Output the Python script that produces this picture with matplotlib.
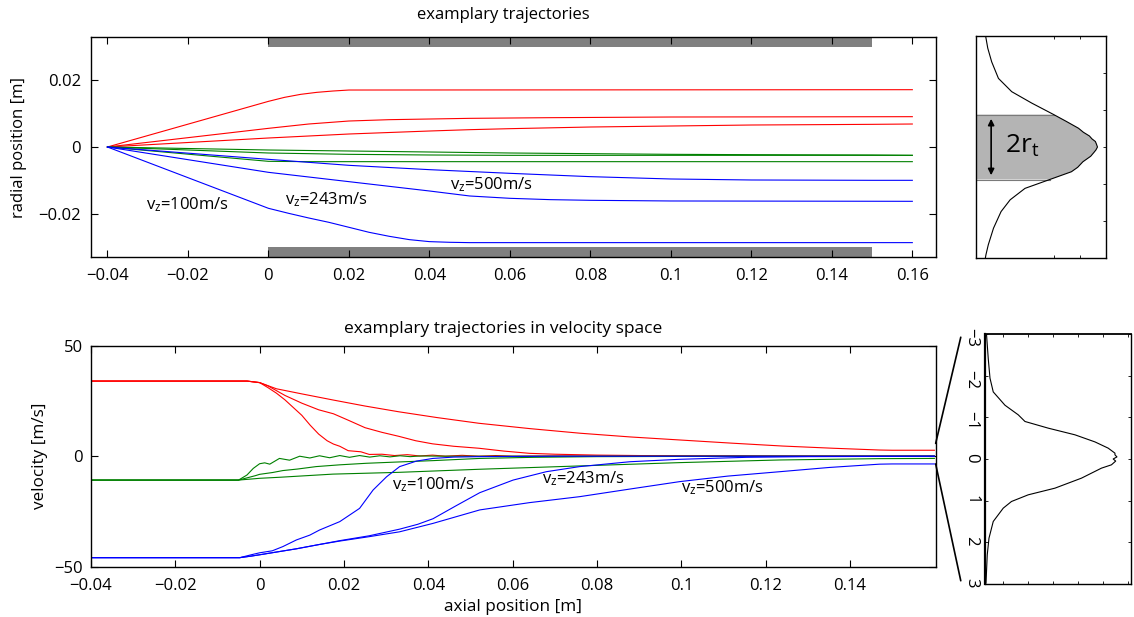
import matplotlib
matplotlib.use('Agg')
import matplotlib.pyplot as plt
from matplotlib.patches import ConnectionPatch

plt.rcParams['font.family'] = ['Open Sans', 'DejaVu Sans']
plt.rcParams['font.size'] = 12
plt.rcParams['axes.linewidth'] = 1.0
plt.rcParams['mathtext.default'] = 'regular'

# ---- radial position vs axial position (top panel) ----
pos_red_100_x = [-0.04, 0.0, 0.004, 0.008, 0.012, 0.016, 0.02, 0.16]
pos_red_100_r = [0.0, 0.0137, 0.0149, 0.0158, 0.0164, 0.0168, 0.0171, 0.0172]
pos_red_243_x = [-0.04, 0.0, 0.01, 0.02, 0.03, 0.04, 0.05, 0.07, 0.1, 0.16]
pos_red_243_r = [0.0, 0.0056, 0.0069, 0.0078, 0.0082, 0.0084, 0.0086, 0.0088, 0.0090, 0.0091]
pos_red_500_x = [-0.04, 0.0, 0.02, 0.04, 0.05, 0.06, 0.08, 0.1, 0.12, 0.15, 0.16]
pos_red_500_r = [0.0, 0.0027, 0.0039, 0.0048, 0.0052, 0.0055, 0.0060, 0.0063, 0.0066, 0.0068, 0.0069]

pos_green_100_x = [-0.04, 0.0, 0.01, 0.02, 0.16]
pos_green_100_r = [0.0, -0.0043, -0.0044, -0.0044, -0.0044]
pos_green_243_x = [-0.04, 0.0, 0.02, 0.04, 0.06, 0.1, 0.16]
pos_green_243_r = [0.0, -0.0018, -0.0022, -0.0024, -0.0025, -0.0025, -0.0025]
pos_green_500_x = [-0.04, 0.0, 0.02, 0.04, 0.06, 0.08, 0.1, 0.12, 0.15, 0.16]
pos_green_500_r = [0.0, -0.0009, -0.0012, -0.0015, -0.0018, -0.0020, -0.0022, -0.0023, -0.0024, -0.0025]

pos_blue_100_x = [-0.04, 0.0, 0.005, 0.01, 0.015, 0.02, 0.025, 0.03, 0.035, 0.04, 0.045, 0.05, 0.16]
pos_blue_100_r = [0.0, -0.0184, -0.0199, -0.0213, -0.0226, -0.0241, -0.0256, -0.0268, -0.0278,
                  -0.0284, -0.0286, -0.0287, -0.0287]
pos_blue_243_x = [-0.04, 0.0, 0.01, 0.02, 0.03, 0.04, 0.05, 0.06, 0.07, 0.08, 0.1, 0.16]
pos_blue_243_r = [0.0, -0.0076, -0.0090, -0.0104, -0.0118, -0.0132, -0.0147, -0.0154, -0.0158,
                  -0.0160, -0.0162, -0.0163]
pos_blue_500_x = [-0.04, 0.0, 0.02, 0.04, 0.06, 0.08, 0.1, 0.12, 0.15, 0.16]
pos_blue_500_r = [0.0, -0.0037, -0.0055, -0.0068, -0.0079, -0.0089, -0.0096, -0.0099, -0.0100, -0.0100]

# electrode bars
bar_x = [0.0, 0.15]
bar_inner = 0.030
bar_outer = 0.033

# ---- transverse velocity vs axial position (bottom panel) ----
vel_red_100_x = [-0.04, -0.003, 0.0, 0.002, 0.004, 0.006, 0.008, 0.01, 0.012, 0.014, 0.016, 0.0175,
                 0.019, 0.021, 0.024, 0.026, 0.029, 0.032, 0.035, 0.038, 0.041, 0.044, 0.048, 0.052,
                 0.056, 0.06, 0.07, 0.16]
vel_red_100_v = [34, 34, 33.3, 31, 28.5, 25.5, 22, 18.5, 14, 10, 7, 5.5, 4.5, 2.5, 2, 0.8, 0.9, 0.3,
                 0.7, 0.1, 0.5, 0.0, 0.4, 0.0, 0.3, 0.0, 0.1, 0.0]
vel_red_243_x = [-0.04, -0.003, 0.0, 0.002, 0.006, 0.01, 0.014, 0.0175, 0.021, 0.025, 0.029, 0.033,
                 0.037, 0.041, 0.046, 0.052, 0.058, 0.064, 0.07, 0.08, 0.09, 0.1, 0.12, 0.16]
vel_red_243_v = [34, 34, 33.3, 31.8, 27.5, 24, 21, 19.2, 16.3, 12.9, 10.8, 9, 7, 5.6, 4.5, 3.6, 2.3,
                 1.3, 0.9, 0.5, 0.3, 0.2, 0.1, 0.0]
vel_red_500_x = [-0.04, -0.003, 0.0, 0.004, 0.01, 0.0175, 0.025, 0.033, 0.042, 0.052, 0.064, 0.076,
                 0.088, 0.1, 0.112, 0.124, 0.136, 0.147, 0.15, 0.16]
vel_red_500_v = [34, 34, 33.3, 30.5, 28.2, 25.4, 22.7, 20.1, 17.5, 14.9, 12.5, 10.4, 8.7, 7.3, 5.9,
                 4.6, 3.6, 2.8, 2.7, 2.7]

vel_green_100_x = [-0.04, -0.005, -0.003, -0.0015, 0.0, 0.0012, 0.0024, 0.0047, 0.0071, 0.0095,
                   0.0119, 0.0142, 0.0166, 0.019, 0.0213, 0.0237, 0.0261, 0.0285, 0.0309, 0.0333,
                   0.0357, 0.038, 0.045, 0.055, 0.07, 0.16]
vel_green_100_v = [-10.8, -10.8, -8.5, -5.5, -3.4, -3.0, -3.6, -1.0, -1.8, 0.0, -0.8, 0.2, -0.7, 0.3,
                   -0.5, 0.3, -0.4, 0.2, -0.3, 0.2, -0.2, 0.1, 0.0, 0.0, 0.0, 0.0]
vel_green_243_x = [-0.04, -0.005, -0.003, -0.001, 0.0, 0.003, 0.0055, 0.009, 0.0134, 0.019, 0.0253,
                   0.033, 0.0411, 0.0522, 0.065, 0.08, 0.1, 0.16]
vel_green_243_v = [-10.8, -10.8, -9.8, -8.8, -8.2, -7.4, -6.5, -5.8, -4.7, -3.9, -3.2, -2.6, -2.0,
                   -1.0, -0.5, -0.2, -0.1, 0.0]
vel_green_500_x = [-0.04, -0.005, 0.0, 0.005, 0.0174, 0.033, 0.0522, 0.0759, 0.0996, 0.1234, 0.147, 0.16]
vel_green_500_v = [-10.8, -10.8, -10.0, -9.5, -8.1, -7.3, -5.9, -4.4, -2.9, -1.7, -1.1, -1.0]

vel_blue_100_x = [-0.04, -0.0047, -0.002, 0.0, 0.003, 0.0055, 0.0087, 0.0119, 0.0142, 0.019, 0.0237,
                  0.0269, 0.0301, 0.0332, 0.0372, 0.0411, 0.046, 0.052, 0.06, 0.07, 0.16]
vel_blue_100_v = [-45.9, -45.9, -44.6, -43.7, -42.8, -40.9, -37.9, -35.7, -33.4, -29.6, -23.6, -15.3,
                  -9.3, -4.7, -2.2, -1.0, -0.4, -0.2, -0.1, 0.0, 0.0]
vel_blue_243_x = [-0.04, -0.0047, -0.002, 0.0, 0.0045, 0.0087, 0.014, 0.019, 0.026, 0.0332, 0.0375,
                  0.0411, 0.0465, 0.0522, 0.0601, 0.068, 0.0759, 0.0878, 0.0996, 0.1155, 0.13, 0.16]
vel_blue_243_v = [-45.9, -45.9, -45.2, -44.6, -43.2, -41.9, -40.0, -38.2, -36.0, -33.0, -30.8, -28.3,
                  -22.5, -16.5, -10.8, -7.0, -4.7, -2.5, -1.4, -0.5, -0.2, 0.0]
vel_blue_500_x = [-0.04, -0.0047, -0.002, 0.0, 0.0045, 0.0087, 0.014, 0.019, 0.026, 0.0332, 0.0411,
                  0.0522, 0.064, 0.0759, 0.088, 0.0996, 0.111, 0.1234, 0.135, 0.147, 0.15, 0.16]
vel_blue_500_v = [-45.9, -45.9, -45.2, -44.6, -43.2, -41.9, -40.0, -38.4, -36.4, -34.2, -30.4, -24.3,
                  -21.0, -18.3, -14.8, -11.5, -9.0, -7.0, -5.1, -3.6, -3.5, -3.5]

# ---- radial distribution (top right) ----
rdist_r = [3.0, 2.68, 2.31, 1.86, 1.5, 1.19, 0.88, 0.7, 0.51, 0.4, 0.3, 0.22, 0.15, 0.08, 0.0,
           -0.08, -0.15, -0.25, -0.4, -0.55, -0.67, -0.88, -1.12, -1.43, -1.75, -2.2, -2.65, -2.92, -3.0]
rdist_n = [0.37, 0.45, 0.6, 0.86, 1.37, 2.14, 2.98, 3.45, 3.93, 4.12, 4.35, 4.45, 4.58, 4.62, 4.66,
           4.6, 4.52, 4.4, 4.1, 3.9, 3.66, 2.83, 1.88, 1.31, 0.96, 0.67, 0.47, 0.38, 0.36]
r_t = 0.88

# ---- velocity distribution (bottom right) ----
vdist_v = [-3.0, -2.41, -1.94, -1.61, -1.29, -1.06, -0.9, -0.74, -0.58, -0.41, -0.26, -0.14, -0.1,
           -0.05, 0.0, 0.05, 0.14, 0.22, 0.46, 0.70, 0.86, 1.02, 1.18, 1.5, 1.9, 2.3, 2.98]
vdist_n = [0.33, 0.40, 0.47, 0.60, 1.07, 1.6, 1.87, 2.8, 3.87, 4.67, 5.2, 5.47, 5.47, 5.55, 5.4, 5.5,
           5.33, 4.93, 4.13, 3.07, 2.0, 1.33, 1.0, 0.6, 0.43, 0.36, 0.31]
zoom_hi = 5.8
zoom_lo = -3.5

fig = plt.figure(figsize=(11.34, 6.17), dpi=100)
ax1 = fig.add_axes([0.0802, 0.583, 0.7449, 0.3575])
ax2 = fig.add_axes([0.0802, 0.0815, 0.7449, 0.3582])
ax3 = fig.add_axes([0.8607, 0.5823, 0.1149, 0.3588])
ax4 = fig.add_axes([0.8686, 0.0535, 0.1287, 0.4052])

lw = 0.8
for ax in (ax1, ax2):
    ax.tick_params(direction='in', top=True, right=True, length=5, width=0.8, labelsize=12)

# top panel
ax1.fill_between(bar_x, bar_inner, bar_outer, color='#808080', lw=0)
ax1.fill_between(bar_x, -bar_outer, -bar_inner, color='#808080', lw=0)
for xs, rs, c in [(pos_red_100_x, pos_red_100_r, 'red'), (pos_red_243_x, pos_red_243_r, 'red'),
                  (pos_red_500_x, pos_red_500_r, 'red'),
                  (pos_green_100_x, pos_green_100_r, 'green'), (pos_green_243_x, pos_green_243_r, 'green'),
                  (pos_green_500_x, pos_green_500_r, 'green'),
                  (pos_blue_100_x, pos_blue_100_r, 'blue'), (pos_blue_243_x, pos_blue_243_r, 'blue'),
                  (pos_blue_500_x, pos_blue_500_r, 'blue')]:
    ax1.plot(xs, rs, color=c, lw=lw)
ax1.set_xlim(-0.0441, 0.1658)
ax1.set_ylim(-0.0331, 0.0331)
ax1.set_xticks([-0.04, -0.02, 0, 0.02, 0.04, 0.06, 0.08, 0.1, 0.12, 0.14, 0.16])
ax1.set_xticklabels(['\u22120.04', '\u22120.02', '0', '0.02', '0.04', '0.06', '0.08', '0.1', '0.12', '0.14', '0.16'])
ax1.set_yticks([-0.02, 0, 0.02])
ax1.set_yticklabels(['\u22120.02', '0', '0.02'])
ax1.tick_params(axis='x', pad=8)
ax1.tick_params(axis='y', pad=7)
ax1.set_ylabel('radial position [m]', fontsize=12, labelpad=8)
ax1.set_title('examplary trajectories', fontsize=12, x=0.488, pad=13)
ax1.text(-0.0305, -0.0172, 'v$_z$=100m/s', fontsize=12, va='center')
ax1.text(0.0042, -0.0158, 'v$_z$=243m/s', fontsize=12, va='center')
ax1.text(0.045, -0.0112, 'v$_z$=500m/s', fontsize=12, va='center')

# bottom panel
for xs, vs, c in [(vel_red_100_x, vel_red_100_v, 'red'), (vel_red_243_x, vel_red_243_v, 'red'),
                  (vel_red_500_x, vel_red_500_v, 'red'),
                  (vel_green_100_x, vel_green_100_v, 'green'), (vel_green_243_x, vel_green_243_v, 'green'),
                  (vel_green_500_x, vel_green_500_v, 'green'),
                  (vel_blue_100_x, vel_blue_100_v, 'blue'), (vel_blue_243_x, vel_blue_243_v, 'blue'),
                  (vel_blue_500_x, vel_blue_500_v, 'blue')]:
    ax2.plot(xs, vs, color=c, lw=lw)
ax2.set_xlim(-0.04, 0.1603)
ax2.set_ylim(-50, 50)
ax2.set_xticks([-0.04, -0.02, 0, 0.02, 0.04, 0.06, 0.08, 0.1, 0.12, 0.14])
ax2.set_xticklabels(['\u22120.04', '\u22120.02', '0', '0.02', '0.04', '0.06', '0.08', '0.1', '0.12', '0.14'])
ax2.set_yticks([-50, 0, 50])
ax2.set_yticklabels(['\u221250', '0', '50'])
ax2.tick_params(axis='x', pad=8)
ax2.tick_params(axis='y', pad=6)
ax2.set_xlabel('axial position [m]', fontsize=12.3, labelpad=4)
ax2.set_ylabel('velocity [m/s]', fontsize=12.3, labelpad=4)
ax2.set_title('examplary trajectories in velocity space', fontsize=12.5, x=0.488, pad=9)
ax2.text(0.0315, -13, 'v$_z$=100m/s', fontsize=12, va='center')
ax2.text(0.067, -10, 'v$_z$=243m/s', fontsize=12, va='center')
ax2.text(0.100, -14, 'v$_z$=500m/s', fontsize=12, va='center')

# radial distribution
inner_r = [r for r in rdist_r if -r_t <= r <= r_t]
inner_n = [n for r, n in zip(rdist_r, rdist_n) if -r_t <= r <= r_t]
ax3.fill_betweenx(inner_r, 0, inner_n, facecolor='#b4b4b4', edgecolor='none')
ax3.plot([0, inner_n[0]], [r_t, r_t], color='#7a7a7a', lw=0.8)
ax3.plot([0, inner_n[-1]], [-r_t, -r_t], color='#7a7a7a', lw=0.8)
ax3.plot(rdist_n, rdist_r, color='black', lw=0.8)
ax3.annotate('', xy=(0.58, r_t - 0.04), xytext=(0.58, -r_t + 0.04),
             arrowprops=dict(arrowstyle='<|-|>', color='black', lw=1.2, mutation_scale=9))
ax3.text(1.12, 0.02, '2r$_t$', fontsize=19, va='center', ha='left')
ax3.set_xlim(0, 5)
ax3.set_ylim(-3, 3)
ax3.set_xticks([3, 4])
ax3.set_yticks([-2, -1, 0, 1, 2])
ax3.tick_params(direction='in', top=True, right=True, left=False, length=2.5, width=0.6,
                labelbottom=False, labelleft=False)

# velocity distribution
ax4.plot(vdist_n, vdist_v, color='black', lw=0.8)
ax4.set_xlim(0.27, 6.11)
ax4.set_ylim(3, -3)
ax4.set_xticks([1, 2, 3, 4, 5, 6])
ax4.set_yticks([-3, -2, -1, 0, 1, 2, 3])
ax4.set_yticklabels(['\u22123', '\u22122', '\u22121', '0', '1', '2', '3'])
ax4.tick_params(direction='in', top=True, right=True, length=2.5, width=0.6, labelbottom=False,
                labelsize=12)
ax4.tick_params(axis='y', labelrotation=-90, pad=4)
ax4.spines['left'].set_linewidth(1.6)
ax4.spines['top'].set_linewidth(1.3)

# zoom connector lines
for yv, yb in [(zoom_hi, 0.987), (zoom_lo, 0.013)]:
    con = ConnectionPatch(xyA=(ax2.get_xlim()[1], yv), coordsA=ax2.transData,
                          xyB=(-0.166, yb), coordsB=ax4.transAxes, color='black', lw=1.2)
    fig.add_artist(con)

fig.savefig('out.png', dpi=100)
